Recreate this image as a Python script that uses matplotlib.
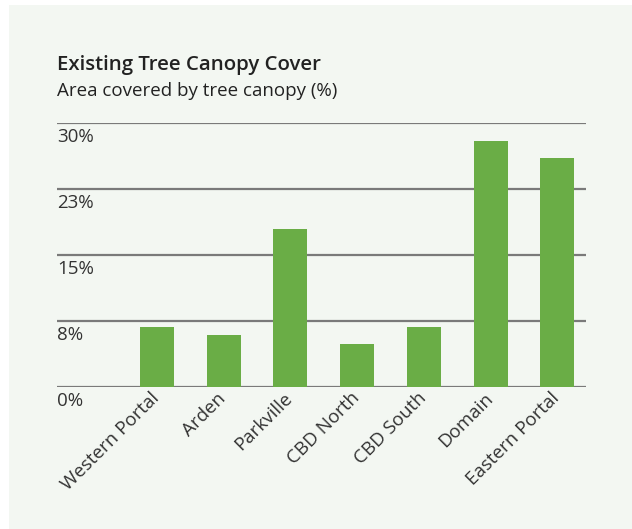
import matplotlib.pyplot as plt
from matplotlib.patches import Rectangle
from matplotlib.transforms import blended_transform_factory, ScaledTranslation

# Data
areas = ["Western Portal", "Arden", "Parkville", "CBD North", "CBD South", "Domain", "Eastern Portal"]
cover = [6.8, 5.9, 18.0, 4.9, 6.8, 28.0, 26.0]
yticks = [0, 7.5, 15, 22.5, 30]
ytick_labels = ["0%", "8%", "15%", "23%", "30%"]

plt.rcParams['font.family'] = ['Open Sans', 'DejaVu Sans']

W, H = 632, 529
fig = plt.figure(figsize=(W / 100, H / 100), dpi=100)
fig.patch.set_facecolor("white")
# light panel behind everything
fig.add_artist(Rectangle((9 / W, 0), 1 - 9 / W, (H - 5) / H, transform=fig.transFigure,
                         facecolor="#f3f7f2", edgecolor="none", zorder=-1))

ax = fig.add_axes([57 / W, (H - 387) / H, (586 - 57) / W, 264 / H])
ax.set_facecolor("none")
ax.set_zorder(1)

x = list(range(len(areas)))
ax.bar(x, cover, width=0.51, color="#6aad46", zorder=2)

for t in yticks:
    ax.axhline(t, color="#7a7a7a", lw=1.6, zorder=1)

tr = blended_transform_factory(ax.transAxes, ax.transData)
for t, lab in zip(yticks, ytick_labels):
    ax.text(0, t - 0.55, lab, transform=tr, ha="left", va="top", fontsize=13.5, color="#333333")

ax.set_xlim(-1.5, 6.43)
ax.set_ylim(0, 30)
ax.set_yticks([])
ax.set_xticks(x)
ax.set_xticklabels(areas, rotation=45, ha="right", va="top", rotation_mode="anchor",
                   fontsize=13.5, color="#333333")
ax.tick_params(axis="x", length=0, pad=3)
shift = ScaledTranslation(-7 / 100, 2 / 100, fig.dpi_scale_trans)
for lab in ax.get_xticklabels():
    lab.set_transform(lab.get_transform() + shift)
for s in ax.spines.values():
    s.set_visible(False)

fig.text(57 / W, 1 - 70 / H, "Existing Tree Canopy Cover", fontsize=14.7, fontweight="semibold",
         color="#222222", ha="left", va="baseline")
fig.text(57 / W, 1 - 96 / H, "Area covered by tree canopy (%)", fontsize=13.5,
         color="#222222", ha="left", va="baseline")

fig.savefig("out.png", dpi=100, facecolor=fig.get_facecolor())
